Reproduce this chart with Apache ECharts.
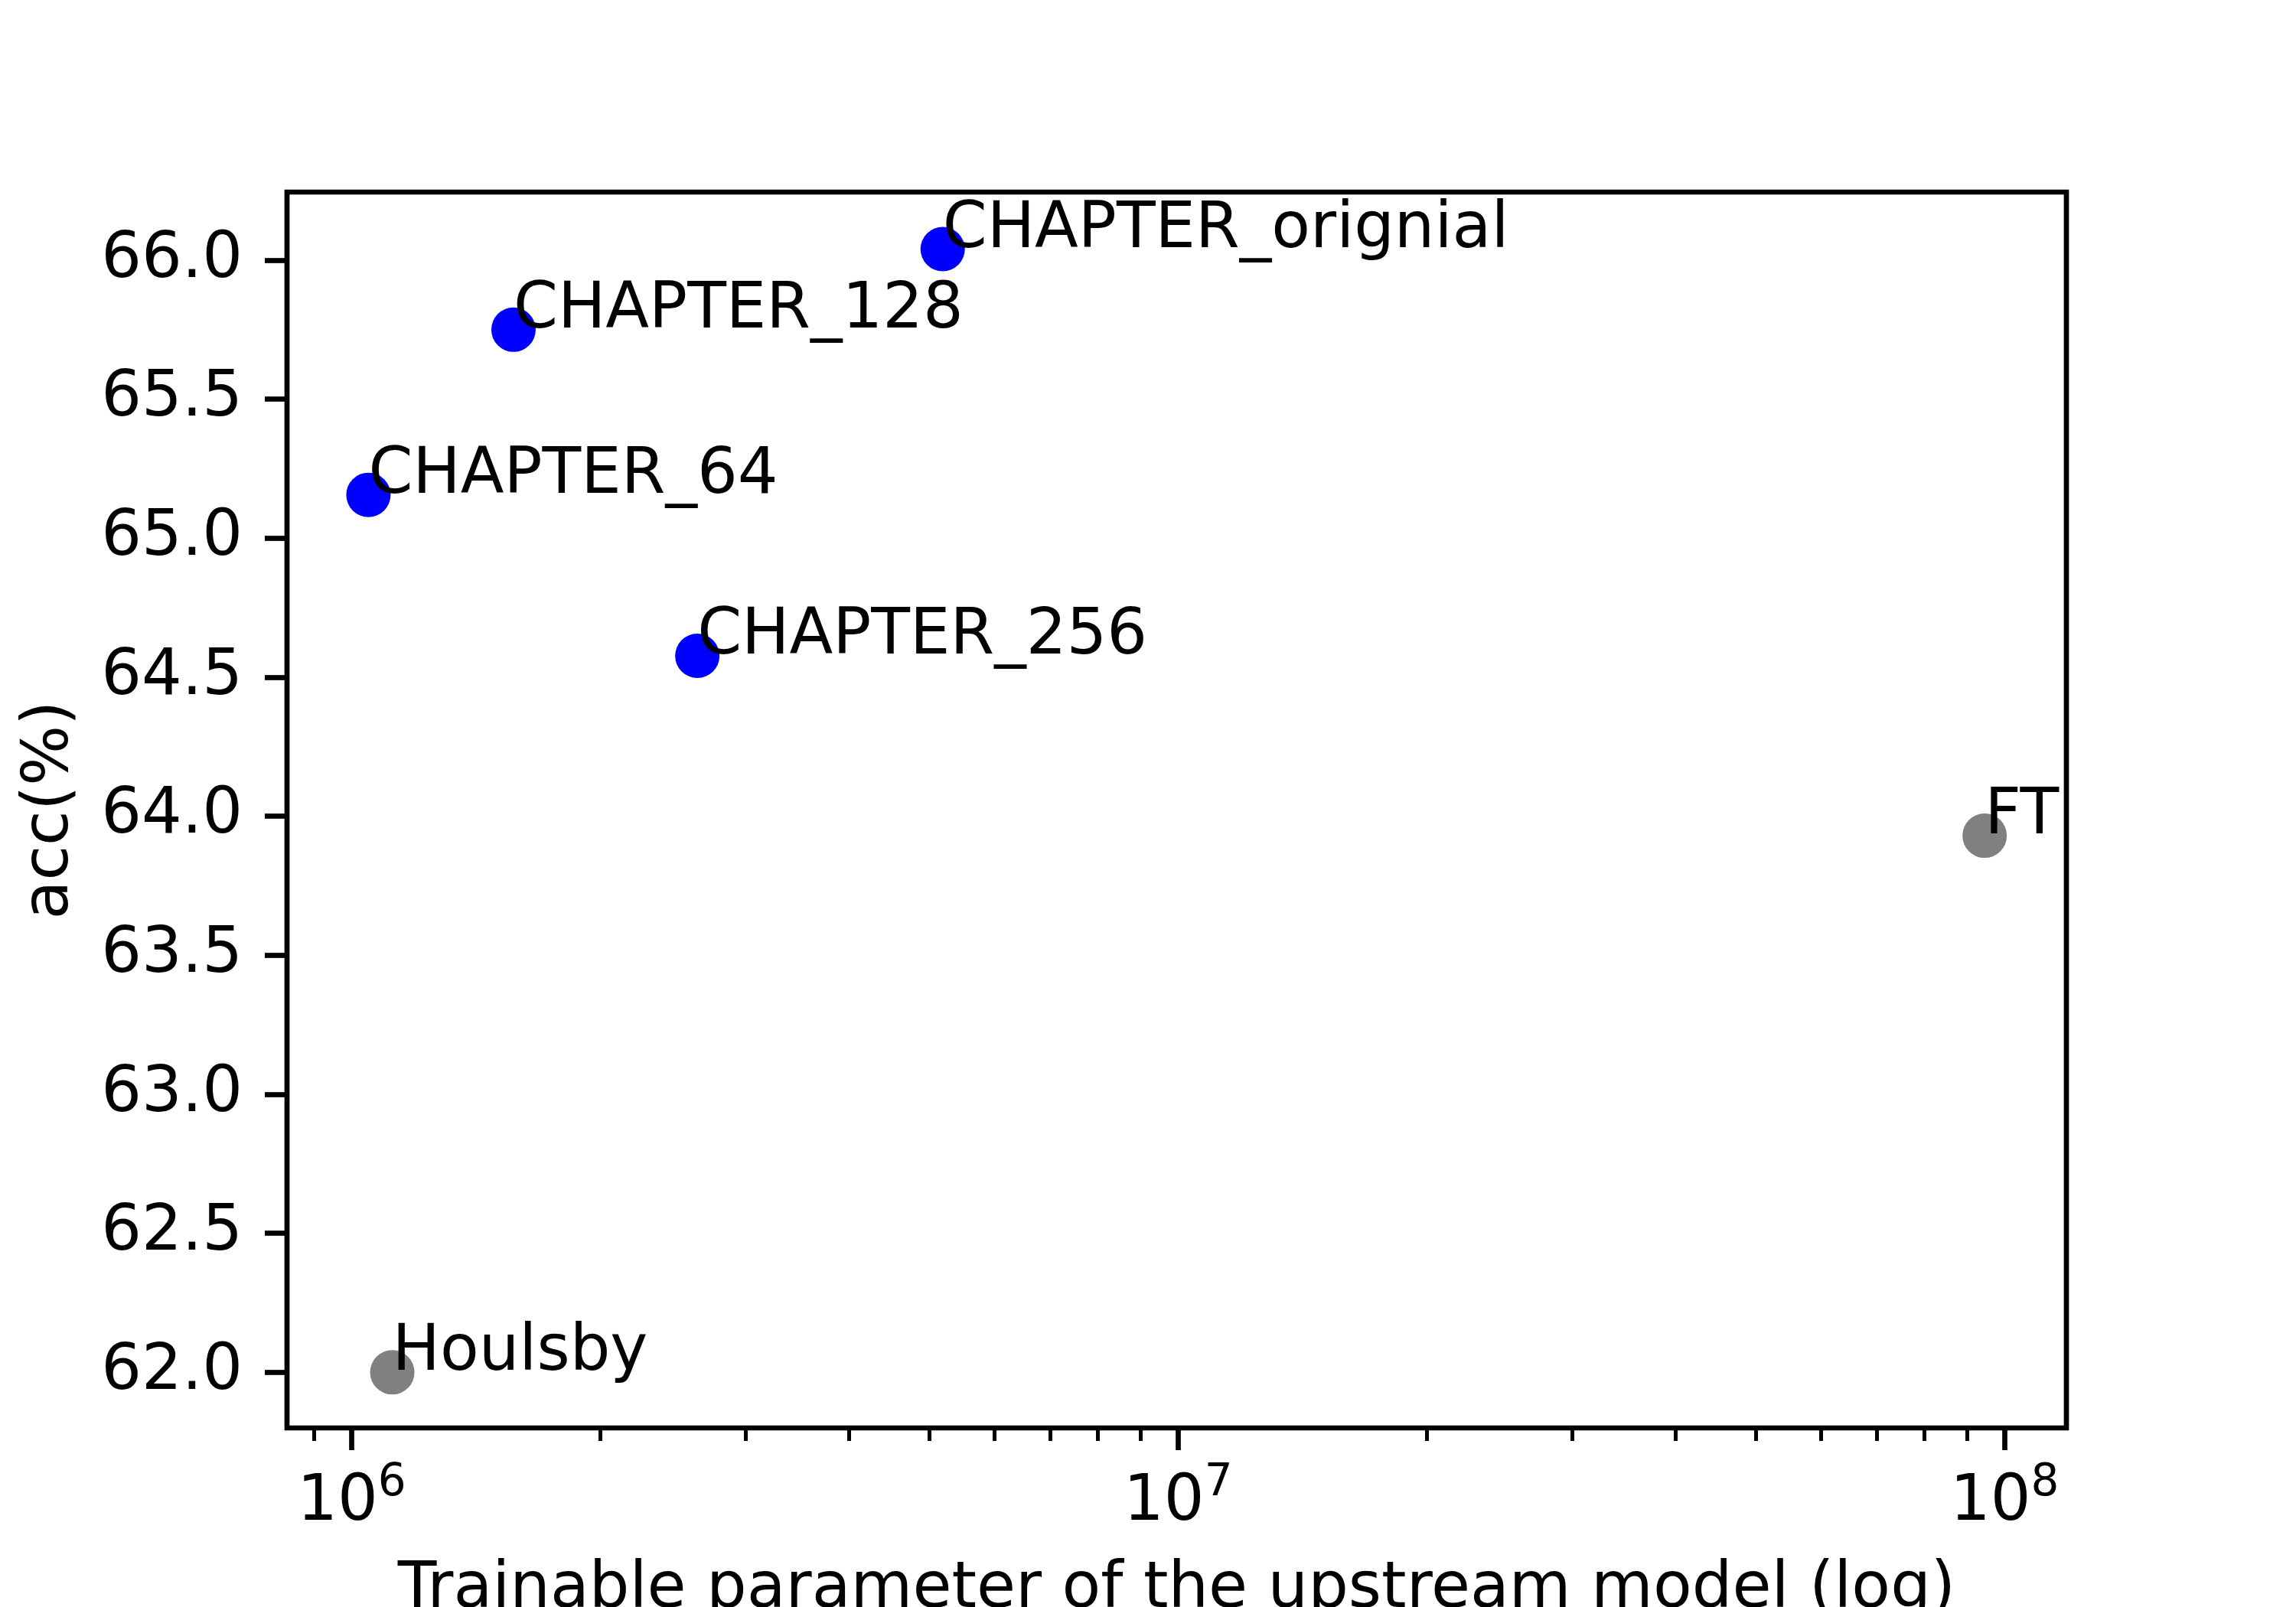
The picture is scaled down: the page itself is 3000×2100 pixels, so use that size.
<!DOCTYPE html>
<html>
<head>
<meta charset="utf-8">
<script src="https://cdn.jsdelivr.net/npm/echarts@6/dist/echarts.min.js"></script>
<style>
  html, body { margin: 0; padding: 0; background: #fff; }
  #chart { width: 3000px; height: 2100px; }
</style>
</head>
<body>
<div id="chart"></div>
<script>
// trainable params vs accuracy
const names = ['CHAPTER_orignial', 'CHAPTER_128', 'CHAPTER_64', 'CHAPTER_256', 'FT', 'Houlsby'];
const params = [5.19e6, 1.57e6, 1.048e6, 2.62e6, 9.46e7, 1.12e6];
const acc = [66.04, 65.75, 65.156, 64.577, 63.93, 62.0];
const colors = ['#0000ff', '#0000ff', '#0000ff', '#0000ff', '#808080', '#808080'];

const yTicks = [62.0, 62.5, 63.0, 63.5, 64.0, 64.5, 65.0, 65.5, 66.0];
const xMajor = [1e6, 1e7, 1e8];
const xMinor = [9e5, 2e6, 3e6, 4e6, 5e6, 6e6, 7e6, 8e6, 9e6, 2e7, 3e7, 4e7, 5e7, 6e7, 7e7, 8e7, 9e7];

const FONT = 'DejaVu Sans';
const xMin = 835300, xMax = 1.188e8;

const points = names.map((n, i) => ({
  name: n,
  value: [params[i], acc[i]],
  itemStyle: { color: colors[i], opacity: 1 }
}));

const chart = echarts.init(document.getElementById('chart'), null, { renderer: 'canvas' });
chart.setOption({
  animation: false,
  backgroundColor: '#fff',
  textStyle: { fontFamily: FONT },
  grid: {
    left: 375, right: 300, top: 251, bottom: 234,
    outerBoundsMode: 'none', containLabel: false,
    show: true, borderColor: '#000', borderWidth: 6.7, backgroundColor: 'transparent'
  },
  xAxis: [
    {
      type: 'log', logBase: 10, min: xMin, max: xMax, position: 'bottom',
      name: 'Trainable parameter of the upstream model (log)',
      nameLocation: 'middle', nameGap: 171,
      nameTextStyle: { fontSize: 83, color: '#000', fontFamily: FONT },
      axisLine: { show: false },
      splitLine: { show: false },
      axisTick: { show: true, length: 29, lineStyle: { color: '#000', width: 6.7 }, customValues: xMajor },
      axisLabel: {
        margin: 44, color: '#000', fontFamily: FONT, customValues: xMajor,
        formatter: v => '{b|10}{s|' + Math.round(Math.log10(v)) + '}',
        rich: {
          b: { fontSize: 83, fontFamily: FONT, color: '#000', verticalAlign: 'bottom' },
          s: { fontSize: 58, fontFamily: FONT, color: '#000', verticalAlign: 'bottom', padding: [0, 0, 38, 0] }
        }
      }
    },
    {
      type: 'log', logBase: 10, min: xMin, max: xMax, position: 'bottom',
      axisLine: { show: false },
      splitLine: { show: false },
      axisTick: { show: true, length: 17, lineStyle: { color: '#000', width: 5 }, customValues: xMinor },
      axisLabel: { show: false }
    }
  ],
  yAxis: {
    type: 'value', min: 61.8, max: 66.245,
    name: 'acc(%)', nameLocation: 'middle', nameGap: 267,
    nameTextStyle: { fontSize: 83, color: '#000', fontFamily: FONT },
    axisLine: { show: false },
    splitLine: { show: false },
    axisTick: { show: true, length: 29, lineStyle: { color: '#000', width: 6.7 }, customValues: yTicks },
    axisLabel: {
      margin: 58, fontSize: 83, color: '#000', fontFamily: FONT, customValues: yTicks,
      formatter: v => v.toFixed(1)
    }
  },
  series: [{
    type: 'scatter',
    xAxisIndex: 0,
    symbolSize: 58,
    data: points,
    label: {
      show: true,
      formatter: p => p.name,
      position: [29, 46],
      align: 'left',
      verticalAlign: 'bottom',
      fontSize: 83,
      fontFamily: FONT,
      color: '#000',
      opacity: 1
    }
  }]
});
</script>
</body>
</html>
